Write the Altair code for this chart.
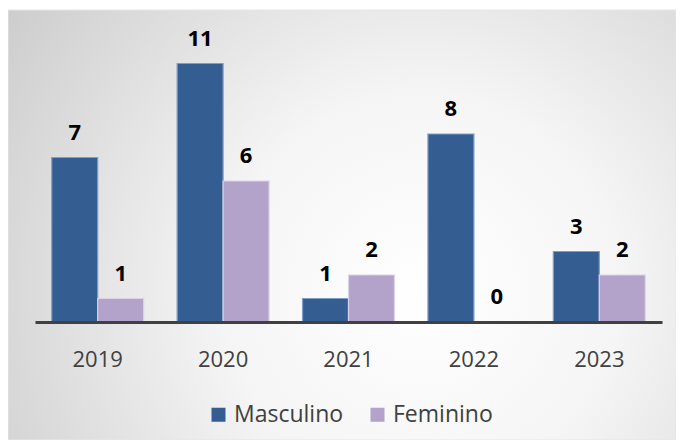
import altair as alt
import pandas as pd

years = ["2019", "2020", "2021", "2022", "2023"]
masculino = [7, 11, 1, 8, 3]
feminino = [1, 6, 2, 0, 2]
series = ["Masculino", "Feminino"]
fill_colors = ["#345E91", "#B3A2C9"]
stroke_colors = ["#7F9DC4", "#DCD2E8"]

rows = []
for i, y in enumerate(years):
    rows.append({"ano": y, "genero": series[0], "valor": masculino[i]})
    rows.append({"ano": y, "genero": series[1], "valor": feminino[i]})
df = pd.DataFrame(rows)

W, H = 627, 282
PAD = {"left": 27, "top": 32, "right": 14, "bottom": 432 - 32 - 282}

bg = alt.Chart(alt.Data(values=[{}])).mark_rect(
    color={
        "gradient": "radial",
        "x1": 0.62, "y1": 0.6, "r1": 0,
        "x2": 0.62, "y2": 0.6, "r2": 0.85,
        "stops": [
            {"offset": 0, "color": "#FFFFFF"},
            {"offset": 0.35, "color": "#F5F5F5"},
            {"offset": 1, "color": "#C4C4C4"},
        ],
    },
    stroke="#E6E6E6",
    strokeWidth=1,
).encode(
    x=alt.value(-27),
    x2=alt.value(W + 14),
    y=alt.value(-30),
    y2=alt.value(H + PAD["bottom"]),
)

xenc = alt.X(
    "ano:N",
    sort=years,
    scale=alt.Scale(paddingInner=0.267, paddingOuter=0.1335),
    axis=alt.Axis(
        title=None,
        labelAngle=0,
        ticks=False,
        tickSize=0,
        domainColor="#404040",
        domainWidth=3,
        labelFont="Open Sans",
        labelFontSize=22,
        labelColor="#404040",
        labelBaseline="alphabetic",
        labelPadding=44,
        grid=False,
        zindex=2,
    ),
)
yenc = alt.Y("valor:Q", scale=alt.Scale(domain=[0, 12], nice=False), axis=None)
xoff = alt.XOffset("genero:N", sort=series, scale=alt.Scale(paddingInner=0, paddingOuter=0))

bars = alt.Chart(df).mark_bar(strokeWidth=1.2).encode(
    x=xenc,
    y=yenc,
    xOffset=xoff,
    color=alt.Color(
        "genero:N",
        sort=series,
        scale=alt.Scale(domain=series, range=fill_colors),
        legend=alt.Legend(
            title=None,
            orient="none",
            direction="horizontal",
            legendX=172,
            legendY=363,
            padding=0,
            symbolType="square",
            symbolSize=196,
            symbolStrokeWidth=0,
            labelFont="Open Sans",
            labelFontSize=23,
            labelColor="#404040",
            labelOffset=4,
            columnPadding=22,
        ),
    ),
    stroke=alt.Stroke(
        "genero:N", sort=series,
        scale=alt.Scale(domain=series, range=stroke_colors), legend=None
    ),
)

labels = alt.Chart(df).mark_text(
    dy=-18, baseline="alphabetic", align="center",
    font="Open Sans", fontSize=22, fontWeight="bold", color="#000000",
).encode(
    x=xenc,
    y=yenc,
    xOffset=xoff,
    text="valor:Q",
)

chart = alt.layer(bg, bars, labels).properties(
    width=W,
    height=H,
    padding=PAD,
    autosize=alt.AutoSizeParams(type="none"),
    background="#FFFFFF",
).configure_view(stroke=None)

chart.save("out.html", embed_options={"renderer": "svg", "actions": False})
